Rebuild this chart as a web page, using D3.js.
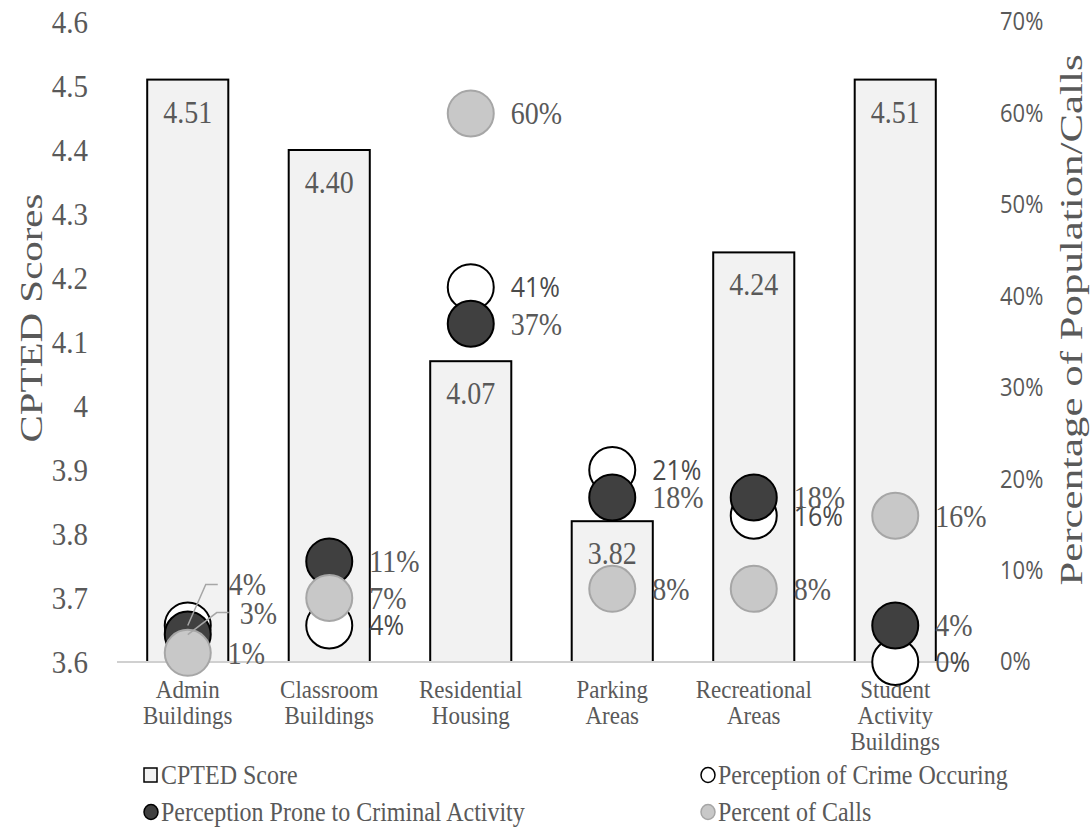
<!DOCTYPE html>
<html>
<head>
<meta charset="utf-8">
<script src="https://cdn.jsdelivr.net/npm/d3@7"></script>
<style>
  html, body { margin: 0; padding: 0; background: #fff; }
  svg { display: block; }
</style>
</head>
<body>
<svg id="chart" width="1091" height="832"></svg>
<script>
// Campus locations
const categories = [
  "Admin Buildings",
  "Classroom Buildings",
  "Residential Housing",
  "Parking Areas",
  "Recreational Areas",
  "Student Activity Buildings"
];
// Category labels, broken into lines
const categoryLines = [
  ["Admin", "Buildings"],
  ["Classroom", "Buildings"],
  ["Residential", "Housing"],
  ["Parking", "Areas"],
  ["Recreational", "Areas"],
  ["Student", "Activity", "Buildings"]
];
// CPTED score per location (left axis)
const cptedScores = [4.51, 4.40, 4.07, 3.82, 4.24, 4.51];
// Percentages (right axis)
const crimeOccurring = [0.04, 0.04, 0.41, 0.21, 0.16, 0.00];
const proneCriminal  = [0.03, 0.11, 0.37, 0.18, 0.18, 0.04];
const percentCalls   = [0.01, 0.07, 0.60, 0.08, 0.08, 0.16];

const leftTicks  = [3.6, 3.7, 3.8, 3.9, 4.0, 4.1, 4.2, 4.3, 4.4, 4.5, 4.6];
const rightTicks = [0, 0.1, 0.2, 0.3, 0.4, 0.5, 0.6, 0.7];

const SERIF = "'Liberation Serif', 'Times New Roman', serif";
const SANS  = "'Open Sans', 'Liberation Sans', sans-serif";
const TEXT  = "#595959";
const TALL  = 1.12;   // glyphs are set slightly taller than wide
const TITLE_STRETCH = 1.32;   // axis titles are drawn elongated

const svg = d3.select("#chart");

const plot = { left: 117, right: 966, top: 22, bottom: 662 };

const x = d3.scaleBand().domain(categories).range([plot.left, plot.right]).padding(0);
const yL = d3.scaleLinear().domain([3.6, 4.6]).range([plot.bottom, plot.top]);
const yR = d3.scaleLinear().domain([0, 0.7]).range([plot.bottom, plot.top]);

const barWidth = x.bandwidth() * 0.573;
const cx = c => x(c) + x.bandwidth() / 2;
const R = 23;

// Horizontal text placed at (px, py) with the taller glyph shape
function label(parent, px, py, str, opts) {
  const g = parent.append("g").attr("transform", `translate(${px},${py}) scale(1,${TALL})`);
  return g.append("text")
    .attr("text-anchor", opts.anchor || "start")
    .attr("dy", opts.dy || null)
    .attr("font-family", opts.font || SERIF)
    .attr("font-size", opts.size)
    .attr("fill", opts.fill || TEXT)
    .text(str);
}

// Series for the circle markers, drawn back to front
const series = [
  { key: "crime", values: crimeOccurring, fill: "#ffffff", stroke: "#000000" },
  { key: "prone", values: proneCriminal,  fill: "#404040", stroke: "#000000" },
  { key: "calls", values: percentCalls,   fill: "#c8c8c8", stroke: "#a6a6a6" }
];

// Data labels set in the sans face
const sansLabels = new Set([
  "Classroom Buildings|crime",
  "Residential Housing|crime",
  "Parking Areas|crime",
  "Recreational Areas|crime",
  "Student Activity Buildings|crime"
]);
// Labels pulled away from their markers, with a leader line
const movedLabels = {
  "Admin Buildings|crime": [41, -41],
  "Admin Buildings|prone": [52, -22]
};

// Left axis
const leftAxis = svg.append("g")
  .attr("transform", `translate(${plot.left},0)`)
  .call(d3.axisLeft(yL).tickValues(leftTicks).tickSize(0).tickPadding(29)
    .tickFormat(d => d3.format("")(+d.toFixed(1))));
leftAxis.select(".domain").remove();
leftAxis.selectAll("text")
  .attr("font-family", SERIF).attr("font-size", 29).attr("fill", TEXT)
  .attr("transform", `scale(1,${TALL})`);

// Right axis
const rightAxis = svg.append("g")
  .attr("transform", `translate(${plot.right},0)`)
  .call(d3.axisRight(yR).tickValues(rightTicks).tickSize(0).tickPadding(34)
    .tickFormat(d3.format(".0%")));
rightAxis.select(".domain").remove();
rightAxis.selectAll("text")
  .attr("font-family", SANS).attr("font-size", 22).attr("fill", TEXT)
  .attr("transform", `scale(1,${TALL})`);

// Axis titles
svg.append("text")
  .attr("transform", `translate(42,318) rotate(-90) scale(${TITLE_STRETCH},1)`)
  .attr("text-anchor", "middle")
  .attr("font-family", SERIF).attr("font-size", 31).attr("fill", TEXT)
  .text("CPTED Scores");
svg.append("text")
  .attr("transform", `translate(1082,320) rotate(-90) scale(${TITLE_STRETCH},1)`)
  .attr("text-anchor", "middle")
  .attr("font-family", SERIF).attr("font-size", 32.5).attr("fill", TEXT)
  .text("Percentage of Population/Calls");

// Bars
const barData = categories.map((c, i) => ({ c, v: cptedScores[i] }));
svg.append("g").selectAll("rect").data(barData).join("rect")
  .attr("x", d => cx(d.c) - barWidth / 2)
  .attr("y", d => yL(d.v))
  .attr("width", barWidth)
  .attr("height", d => yL(3.6) - yL(d.v))
  .attr("fill", "#f2f2f2")
  .attr("stroke", "#000")
  .attr("stroke-width", 2);

const barLabelG = svg.append("g");
barData.forEach(d => {
  label(barLabelG, cx(d.c), yL(d.v) + 43, d.v.toFixed(2), { anchor: "middle", size: 28 });
});

// Category axis line
svg.append("line")
  .attr("x1", plot.left).attr("x2", plot.right)
  .attr("y1", plot.bottom).attr("y2", plot.bottom)
  .attr("stroke", "#d0d0d0").attr("stroke-width", 2);

// Category labels
const catG = svg.append("g");
categories.forEach((c, i) => {
  categoryLines[i].forEach((line, j) => {
    label(catG, cx(c), 698 + j * 26, line, { anchor: "middle", size: 23 });
  });
});

// Circle markers
series.forEach(s => {
  svg.append("g").selectAll("circle").data(categories).join("circle")
    .attr("cx", c => cx(c))
    .attr("cy", (c, i) => yR(s.values[i]))
    .attr("r", R)
    .attr("fill", s.fill)
    .attr("stroke", s.stroke)
    .attr("stroke-width", 2);
});

// Percentage labels and leader lines
const labelG = svg.append("g");
series.forEach(s => {
  categories.forEach((c, i) => {
    const id = c + "|" + s.key;
    const px = cx(c), py = yR(s.values[i]);
    const off = movedLabels[id] || [40, 0];
    const lx = px + off[0], ly = py + off[1];
    if (movedLabels[id]) {
      labelG.append("polyline")
        .attr("points", [[lx - 11, ly], [lx - 23, ly], [px, py]].map(p => p.join(",")).join(" "))
        .attr("fill", "none").attr("stroke", "#a6a6a6").attr("stroke-width", 1.5);
    }
    const sans = sansLabels.has(id);
    label(labelG, lx, ly, d3.format(".0%")(s.values[i]), {
      dy: "0.35em",
      font: sans ? SANS : SERIF,
      size: sans ? 25 : 28,
      fill: sans ? "#4a4a4a" : TEXT
    });
  });
});

// Legend
const legend = [
  { label: "CPTED Score", shape: "rect", fill: "#f2f2f2", stroke: "#000", x: 143, y: 775 },
  { label: "Perception of Crime Occuring", shape: "circle", fill: "#ffffff", stroke: "#000", x: 700, y: 775 },
  { label: "Perception Prone to Criminal Activity", shape: "circle", fill: "#404040", stroke: "#000", x: 143, y: 812 },
  { label: "Percent of Calls", shape: "circle", fill: "#c8c8c8", stroke: "#a6a6a6", x: 700, y: 812 }
];
const lg = svg.append("g");
legend.forEach(l => {
  if (l.shape === "rect") {
    lg.append("rect").attr("x", l.x + 1).attr("y", l.y - 7).attr("width", 13).attr("height", 14)
      .attr("fill", l.fill).attr("stroke", l.stroke).attr("stroke-width", 1.5);
  } else {
    lg.append("ellipse").attr("cx", l.x + 8).attr("cy", l.y).attr("rx", 7).attr("ry", 7.5)
      .attr("fill", l.fill).attr("stroke", l.stroke).attr("stroke-width", 1.5);
  }
  label(lg, l.x + 18, l.y, l.label, { dy: "0.35em", size: 24 });
});
</script>
</body>
</html>
